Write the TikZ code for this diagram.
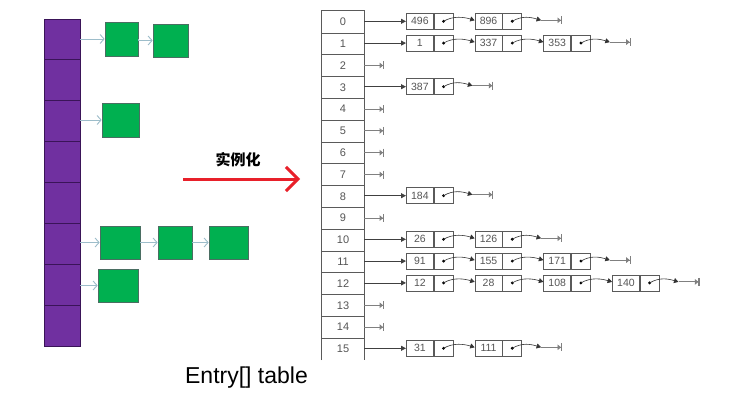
\documentclass[tikz,border=0pt]{standalone}
\usepackage{fontspec}
\setmainfont{Liberation Sans}
\newfontfamily\cjk{Noto Sans CJK SC}
\usetikzlibrary{arrows.meta,calc}
\definecolor{purp}{HTML}{7030A0}
\definecolor{purpdark}{HTML}{3A1458}
\definecolor{grn}{HTML}{00B050}
\definecolor{grndark}{HTML}{4A6E62}
\definecolor{lightarr}{HTML}{9DBDCA}
\definecolor{redarr}{HTML}{E8202A}
\definecolor{tblgray}{HTML}{5A5A5A}
\definecolor{txtgray}{HTML}{555555}
\begin{document}
\begin{tikzpicture}[x=1pt,y=-1pt,
  pcell/.style={draw=purpdark,fill=purp,line width=0.8pt,minimum width=36pt,minimum height=40.875pt,inner sep=0pt},
  gbox/.style={draw=grndark,fill=grn,line width=0.7pt,inner sep=0pt},
  larr/.style={draw=lightarr,line width=0.9pt,-{Straight Barb[length=4pt,width=9pt,line width=0.9pt]}},
  cell/.style={minimum width=42pt,minimum height=21.8pt,inner sep=0pt,font=\fontsize{11}{11}\selectfont,text=txtgray},
  tbl/.style={draw=tblgray,line width=0.8pt},
  val/.style={draw=tblgray,line width=0.7pt,minimum width=27pt,minimum height=16pt,inner sep=0pt,anchor=west,font=\fontsize{10.5}{10.5}\selectfont,text=txtgray},
  ptr/.style={draw=tblgray,line width=0.7pt,minimum width=19pt,minimum height=16pt,inner sep=0pt,anchor=west},
  barr/.style={draw=black!75,line width=0.8pt,-{Triangle[length=5pt,width=5pt]}},
  link/.style={draw=black!80,line width=0.6pt,-{Triangle[length=4.5pt,width=5pt]}},
  nullarr/.style={draw=black!50,line width=0.9pt,-{Triangle[length=3.5pt,width=5.5pt]Bar[width=8pt,line width=1.1pt]}}
]
\useasboundingbox (0,0) rectangle (742,404);
\fill[white] (0,0) rectangle (742,404);

% left purple table
\foreach \i in {0,...,7}{
  \node[pcell] (L\i) at (62,{19+40.875*(\i+0.5)}) {};
}
% green boxes
\node[gbox,minimum width=33pt,minimum height=34pt] (g01) at (121.5,39) {};
\node[gbox,minimum width=35pt,minimum height=33pt] (g02) at (170.5,40.5) {};
\node[gbox,minimum width=37pt,minimum height=34pt] (g21) at (120.5,120) {};
\node[gbox,minimum width=40pt,minimum height=33pt] (g51) at (120,242.5) {};
\node[gbox,minimum width=34pt,minimum height=33pt] (g52) at (175,242.5) {};
\node[gbox,minimum width=39pt,minimum height=33pt] (g53) at (228.5,242.5) {};
\node[gbox,minimum width=40pt,minimum height=33pt] (g61) at (118,285.5) {};
\draw[larr] (g01.west -| L0.east) -- (g01.west);
\draw[larr] (g01.east) -- (g02.west -| g01.east) -- (g02.west);
\draw[larr] (g21.west -| L2.east) -- (g21.west);
\draw[larr] (g51.west -| L5.east) -- (g51.west);
\draw[larr] (g51.east) -- (g52.west);
\draw[larr] (g52.east) -- (g53.west);
\draw[larr] (g61.west -| L6.east) -- (g61.west);

% red arrow and label
\coordinate (ra) at (183,179);
\coordinate (rb) at (300,179);
\draw[redarr,line width=3pt,-{Straight Barb[length=12pt,width=24pt,line width=3pt]}] (ra) -- (rb);
\node[font=\cjk\bfseries\fontsize{15}{15}\selectfont] (lab) at (238,160) {实例化};

% caption
\node[font=\fontsize{23}{23}\selectfont] (cap) at (246.5,378) {Entry[] table};

% right table
\foreach \r in {0,...,15}{
  \node[cell] (c\r) at (343,{21.9+21.8*\r}) {\r};
}
\draw[tbl] (c15.south west) -- (c0.north west) -- (c0.north east) -- (c15.south east);
\foreach \r in {0,...,14}{
  \draw[tbl] (c\r.south west) -- (c\r.south east);
}

% empty buckets
\foreach \r in {2,4,5,6,7,9,13,14}{
  \coordinate (z\r) at ([xshift=20pt]c\r.east);
  \draw[nullarr] (c\r.east) -- (z\r);
}

% chains
\foreach \r/\vals in {0/{496,896},1/{1,337,353},3/{387},8/{184},10/{26,126},11/{91,155,171},12/{12,28,108,140},15/{31,111}}{
  \foreach \v [count=\k] in \vals {
    \node[val] (v\r-\k) at ({406+68.7*(\k-1)},{21.3+21.8*\r}) {\v};
    \node[ptr] (p\r-\k) at (v\r-\k.east) {};
    \fill (p\r-\k.center) circle (1.6pt);
    \ifnum\k=1
      \draw[barr] (c\r.east |- v\r-\k.west) -- (v\r-\k.west);
    \else
      \pgfmathtruncatemacro\km{\k-1}
      \draw[link] (p\r-\km.center) .. controls +(10,-6) and +(-10,-3) .. ([yshift=1pt]v\r-\k.west);
    \fi
    \xdef\lastk{\k}
  }
  \coordinate (t\r) at ([xshift=19pt,yshift=1pt]p\r-\lastk.east);
  \coordinate (e\r) at ([xshift=40pt,yshift=1pt]p\r-\lastk.east);
  \draw[link] (p\r-\lastk.center) .. controls +(10,-6) and +(-10,-3) .. (t\r);
  \draw[nullarr] (t\r) -- (e\r);
}
\end{tikzpicture}
\end{document}
